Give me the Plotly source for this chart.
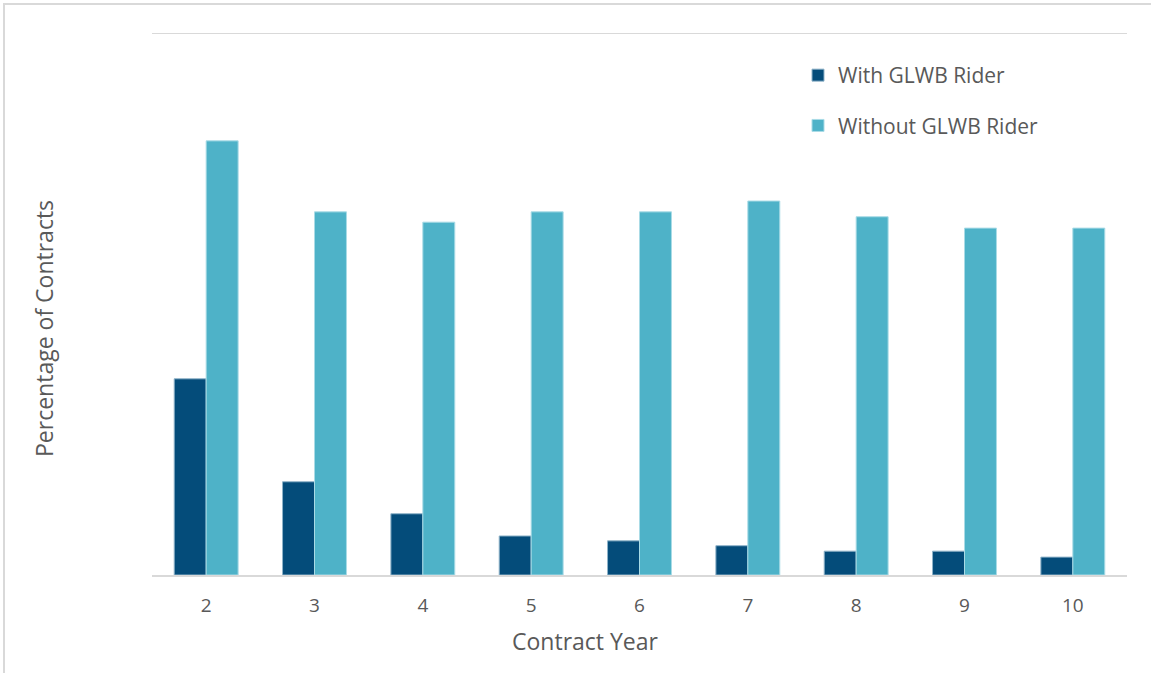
import plotly.graph_objects as go

years = ["2", "3", "4", "5", "6", "7", "8", "9", "10"]
with_rider = [36.2, 17.2, 11.3, 7.2, 6.3, 5.4, 4.4, 4.4, 3.3]
without_rider = [80.1, 67.0, 65.1, 67.0, 67.0, 69.0, 66.1, 64.0, 64.0]

W, H = 1151, 673
ml, mr, mt, mb = 152, 24, 33, 98
pw, ph = W - ml - mr, H - mt - mb


def px(xp):
    return (xp - ml) / pw


def py(yp):
    return (H - mb - yp) / ph


fig = go.Figure()
fig.add_trace(go.Bar(x=years, y=with_rider, name="With GLWB Rider",
                     marker=dict(color="#044c7a", line=dict(color="#8fb3c9", width=1)),
                     legendgroup="a"))
fig.add_trace(go.Bar(x=years, y=without_rider, name="Without GLWB Rider",
                     marker=dict(color="#4eb2c8", line=dict(color="#a9dbe6", width=1)),
                     legendgroup="b"))

font_family = "Open Sans, Noto Sans, sans-serif"
fig.update_layout(
    width=W, height=H,
    margin=dict(l=ml, r=mr, t=mt, b=mb),
    paper_bgcolor="white", plot_bgcolor="white",
    barmode="group", bargap=0.41, bargroupgap=0,
    font=dict(family=font_family, color="#595959", size=18),
    legend=dict(x=px(798), y=py(55), xanchor="left", yanchor="top",
                font=dict(size=21, color="#595959"), tracegroupgap=20,
                bgcolor="rgba(0,0,0,0)", itemwidth=30),
    xaxis=dict(showgrid=False, showline=True, linecolor="#d9d9d9", linewidth=2,
               ticks="", tickfont=dict(size=19, color="#595959"), ticklabelstandoff=12),
    yaxis=dict(range=[0, 100], showticklabels=False, showgrid=False,
               zeroline=False, showline=False),
)

fig.add_annotation(text="Contract Year", xref="paper", yref="paper",
                   x=px(585), y=py(641), xanchor="center", yanchor="middle",
                   showarrow=False, font=dict(size=23, color="#595959"))
fig.add_annotation(text="Percentage of Contracts", xref="paper", yref="paper",
                   x=px(44), y=py(329), xanchor="center", yanchor="middle", textangle=-90,
                   showarrow=False, font=dict(size=23, color="#595959"))

fig.add_shape(type="line", xref="paper", yref="y", x0=0, x1=1, y0=100, y1=100,
              line=dict(color="#d9d9d9", width=2), layer="below")
fig.add_shape(type="rect", xref="paper", yref="paper",
              x0=px(4), x1=px(1170), y0=py(700), y1=py(4),
              line=dict(color="#d9d9d9", width=2), fillcolor="rgba(0,0,0,0)", layer="below")

fig.write_html("out.html", config={"displayModeBar": False},
               post_script="document.body.style.margin='0';")
